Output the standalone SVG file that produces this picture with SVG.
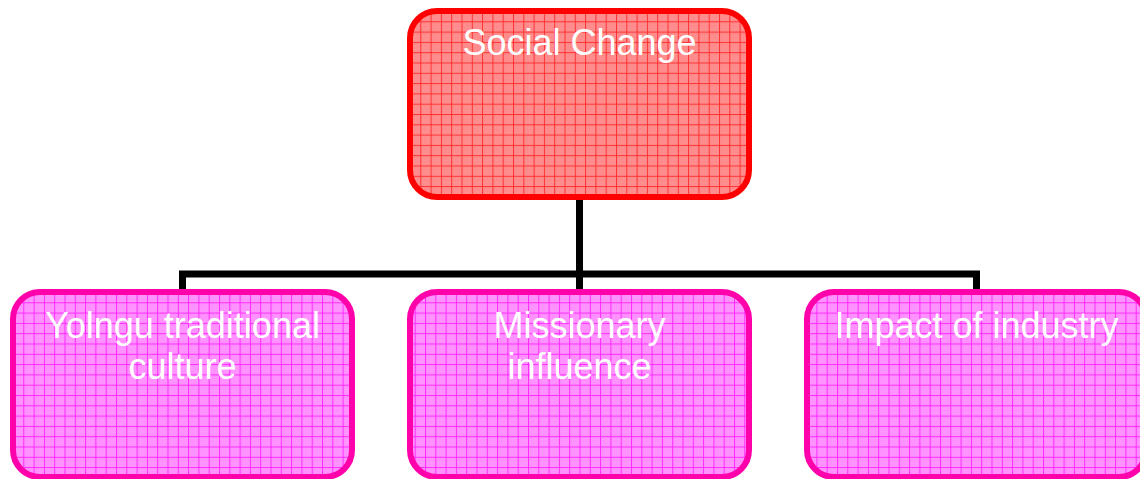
<svg xmlns="http://www.w3.org/2000/svg" width="1140" height="479" viewBox="0 0 1140 479">
  <defs>
    <!-- fine dither for the red fill -->
    <pattern id="dotRed" width="2" height="2" patternUnits="userSpaceOnUse">
      <rect width="2" height="2" fill="#ffa4a4"/>
      <rect width="1" height="1" fill="#ff7474"/>
      <rect x="1" y="1" width="1" height="1" fill="#ff7474"/>
    </pattern>
    <!-- small grid over the dither -->
    <pattern id="gridRed" x="410" y="11" width="10.3" height="10.3" patternUnits="userSpaceOnUse">
      <rect width="10.3" height="10.3" fill="url(#dotRed)"/>
      <rect x="0" y="0" width="10.3" height="1" fill="#ff3030"/>
      <rect x="0" y="0" width="1" height="10.3" fill="#ff3030"/>
    </pattern>
    <pattern id="dotPink" width="2" height="2" patternUnits="userSpaceOnUse">
      <rect width="2" height="2" fill="#ffacff"/>
      <rect width="1" height="1" fill="#ff78ff"/>
      <rect x="1" y="1" width="1" height="1" fill="#ff78ff"/>
    </pattern>
    <pattern id="gridPink" x="13" y="292" width="10.3" height="10.3" patternUnits="userSpaceOnUse">
      <rect width="10.3" height="10.3" fill="url(#dotPink)"/>
      <rect x="0" y="0" width="10.3" height="1" fill="#ff2aff"/>
      <rect x="0" y="0" width="1" height="10.3" fill="#ff2aff"/>
    </pattern>
    <style>
      .root { fill: url(#gridRed); stroke: #ff0000; stroke-width: 6; }
      .leaf { fill: url(#gridPink); stroke: #ff00aa; stroke-width: 6; }
      .label { font-family: "Liberation Sans", Arial, sans-serif; font-size: 36px; fill: #ffffff; text-anchor: middle; }
      .wire { fill: none; stroke: #000000; stroke-width: 7; }
    </style>
  </defs>

  <!-- connectors -->
  <g id="connectors">
    <path class="wire" d="M579.5,197 V274"/>
    <path class="wire" d="M182.5,292 V274 H976.5 V292"/>
    <path class="wire" d="M579.5,274 V292"/>
  </g>

  <g id="social-change">
    <rect class="root" x="410" y="11" width="339" height="186" rx="27" ry="27"/>
    <text class="label" x="579.5" y="55">Social Change</text>
  </g>

  <g id="yolngu-traditional-culture">
    <rect class="leaf" x="13" y="292" width="339" height="185" rx="27" ry="27"/>
    <text class="label" x="182.5" y="338">Yolngu traditional</text>
    <text class="label" x="182.5" y="379">culture</text>
  </g>

  <g id="missionary-influence">
    <rect class="leaf" x="410" y="292" width="339" height="185" rx="27" ry="27"/>
    <text class="label" x="579.5" y="338">Missionary</text>
    <text class="label" x="579.5" y="379">influence</text>
  </g>

  <g id="impact-of-industry">
    <rect class="leaf" x="807" y="292" width="339" height="185" rx="27" ry="27"/>
    <text class="label" x="976.5" y="338">Impact of industry</text>
  </g>
</svg>
